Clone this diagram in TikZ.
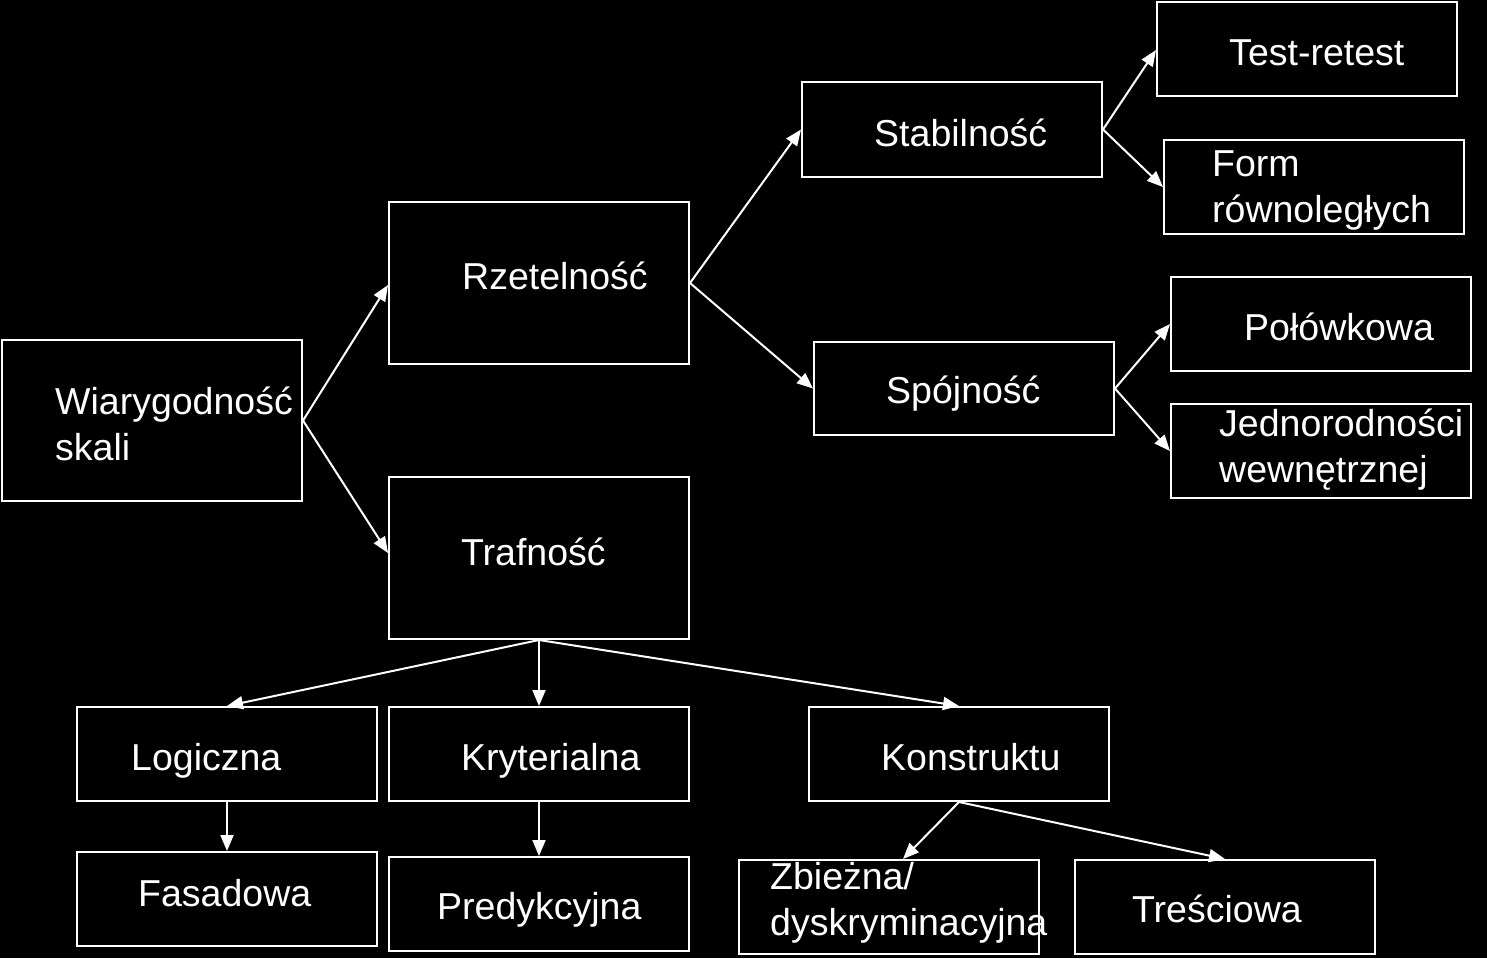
\documentclass[tikz,border=0pt]{standalone}
\usepackage{fontspec}
\setmainfont{Liberation Sans}
\usetikzlibrary{arrows.meta,calc}
\tikzset{
  box/.style={draw=white, line width=2pt, inner sep=0pt, minimum width=300pt},
  lbl/.style={text=white, inner sep=0pt, anchor=base west, font=\fontsize{37.5}{46}\selectfont},
  conn/.style={draw=white, line width=2pt, -{Triangle[length=16pt,width=13pt]}}
}
\begin{document}
\begin{tikzpicture}[x=1pt,y=-1pt]
\fill[black] (0,0) rectangle (1487,958);
\useasboundingbox (0,0) rectangle (1487,958);
% boxes
\node[box, minimum height=161pt] (wia) at (152,420.5) {};
\node[box, minimum height=162pt] (rze) at (539,283) {};
\node[box, minimum height=162pt] (tra) at (539,558) {};
\node[box, minimum height=95pt] (sta) at (952,129.5) {};
\node[box, minimum height=94pt] (tes) at (1307,49) {};
\node[box, minimum height=94pt] (for) at (1314,187) {};
\node[box, minimum height=93pt] (spo) at (964,388.5) {};
\node[box, minimum height=94pt] (pol) at (1321,324) {};
\node[box, minimum height=94pt] (jed) at (1321,451) {};
\node[box, minimum height=94pt] (log) at (227,754) {};
\node[box, minimum height=94pt] (kry) at (539,754) {};
\node[box, minimum height=94pt] (kon) at (959,754) {};
\node[box, minimum height=94pt] (fas) at (227,899) {};
\node[box, minimum height=94pt] (pre) at (539,904) {};
\node[box, minimum height=94pt] (zbi) at (889,907) {};
\node[box, minimum height=94pt] (trs) at (1225,907) {};
% labels
\node[lbl] (twia1) at (55,414) {Wiarygodność};
\node[lbl] (twia2) at (55,460) {skali};
\node[lbl] (trze) at (462,289) {Rzetelność};
\node[lbl] (ttra) at (461,565) {Trafność};
\node[lbl] (tsta) at (874,146) {Stabilność};
\node[lbl] (ttes) at (1229,65) {Test-retest};
\node[lbl] (tfor1) at (1212,176) {Form};
\node[lbl] (tfor2) at (1212,222) {równoległych};
\node[lbl] (tspo) at (886,403) {Spójność};
\node[lbl] (tpol) at (1244,340) {Połówkowa};
\node[lbl] (tjed1) at (1219,436) {Jednorodności};
\node[lbl] (tjed2) at (1219,482) {wewnętrznej};
\node[lbl] (tlog) at (131,770) {Logiczna};
\node[lbl] (tkry) at (461,770) {Kryterialna};
\node[lbl] (tkon) at (881,770) {Konstruktu};
\node[lbl] (tfas) at (138,906) {Fasadowa};
\node[lbl] (tpre) at (437,919) {Predykcyjna};
\node[lbl] (tzbi1) at (770,889) {Zbieżna/};
\node[lbl] (tzbi2) at (770,935) {dyskryminacyjna};
\node[lbl] (ttrs) at (1132,922) {Treściowa};
% connectors
\draw[conn] (wia.east) -- ($(rze.west)+(0,2)$);
\draw[conn] (wia.east) -- ($(tra.west)+(0,-5)$);
\draw[conn] (rze.east) -- (sta.west);
\draw[conn] (rze.east) -- (spo.west);
\draw[conn] (sta.east) -- ($(tes.west)+(0,1)$);
\draw[conn] (sta.east) -- (for.west);
\draw[conn] (spo.east) -- (pol.west);
\draw[conn] (spo.east) -- (jed.west);
\draw[conn] (tra.south) -- (log.north);
\draw[conn] (tra.south) -- (kry.north);
\draw[conn] (tra.south) -- (kon.north);
\draw[conn] (log.south) -- (fas.north);
\draw[conn] (kry.south) -- (pre.north);
\draw[conn] (kon.south) -- ($(zbi.north)+(14,0)$);
\draw[conn] (kon.south) -- (trs.north);
\end{tikzpicture}
\end{document}
